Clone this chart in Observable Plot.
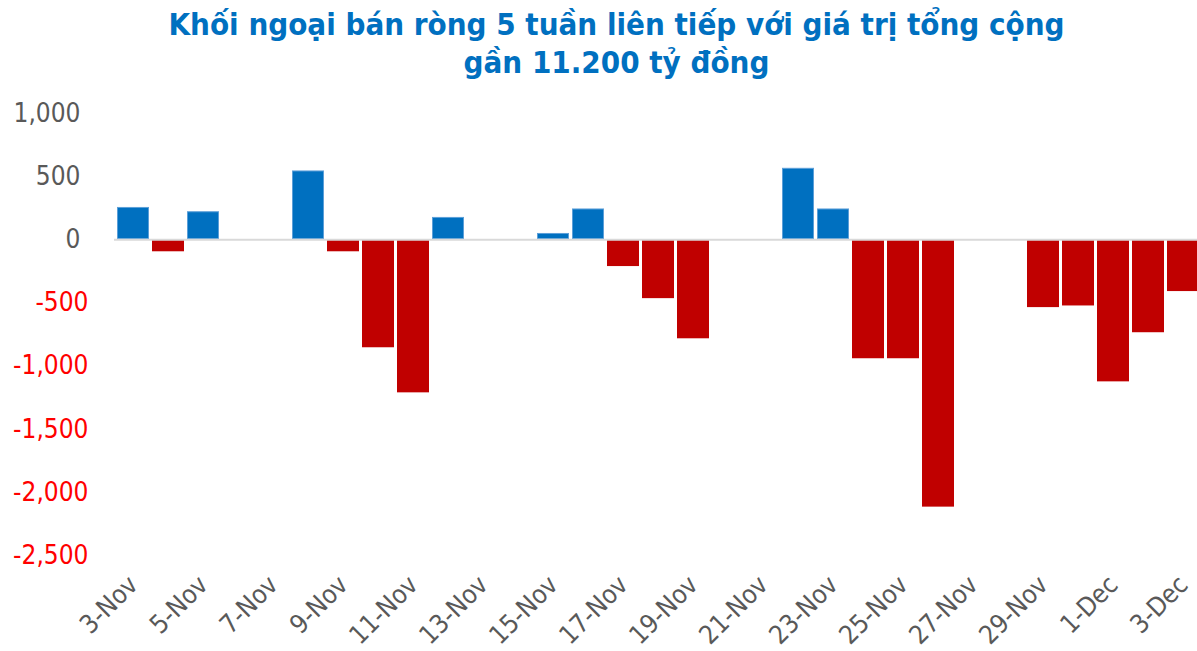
<!DOCTYPE html>
<html>
<head>
<meta charset="utf-8">
<script src="https://cdn.jsdelivr.net/npm/d3@7"></script>
<script src="https://cdn.jsdelivr.net/npm/@observablehq/plot@0.6"></script>
<style>
  html, body { margin: 0; padding: 0; background: #fff; overflow: hidden; }
  #title {
    height: 90px; box-sizing: border-box; padding-top: 5px; padding-left: 36px;
    text-align: center; color: #0070C0;
    font-family: "DejaVu Sans Condensed", "DejaVu Sans", sans-serif;
    font-weight: bold; font-size: 31px; line-height: 38px;
  }
  #chart svg { display: block; }
</style>
</head>
<body>
<div id="title">Khối ngoại bán ròng 5 tuần liên tiếp với giá trị tổng cộng<br>gần 11.200 tỷ đồng</div>
<div id="chart"></div>
<script>
// All calendar days shown on the axis
const allDays = ["3-Nov","4-Nov","5-Nov","6-Nov","7-Nov","8-Nov","9-Nov","10-Nov","11-Nov","12-Nov",
  "13-Nov","14-Nov","15-Nov","16-Nov","17-Nov","18-Nov","19-Nov","20-Nov","21-Nov","22-Nov",
  "23-Nov","24-Nov","25-Nov","26-Nov","27-Nov","28-Nov","29-Nov","30-Nov","1-Dec","2-Dec","3-Dec"];
// Trading days with net foreign buy/sell (bn VND)
const tradingDays = ["3-Nov","4-Nov","5-Nov","8-Nov","9-Nov","10-Nov","11-Nov","12-Nov",
  "15-Nov","16-Nov","17-Nov","18-Nov","19-Nov","22-Nov","23-Nov","24-Nov","25-Nov","26-Nov",
  "29-Nov","30-Nov","1-Dec","2-Dec","3-Dec"];
const netValues = [256, -95, 222, 545, -95, -855, -1212, 177,
  50, 244, -212, -466, -784, 566, 244, -942, -942, -2117,
  -537, -524, -1125, -736, -410];
// Axis ticks
const yTicks = [1000, 500, 0, -500, -1000, -1500, -2000, -2500];
const xTickLabels = ["3-Nov","5-Nov","7-Nov","9-Nov","11-Nov","13-Nov","15-Nov","17-Nov","19-Nov",
  "21-Nov","23-Nov","25-Nov","27-Nov","29-Nov","1-Dec","3-Dec"];

const data = tradingDays.map((d, i) => ({day: d, value: netValues[i]}));
const BLUE = "#0070C0", RED = "#C00000", GRAY = "#595959", NEG = "#FF0000";
const FONT = "'DejaVu Sans Condensed', 'DejaVu Sans', sans-serif";
const fmt = d => (d < 0 ? "-" : "") + d3.format(",")(Math.abs(d));

const chart = Plot.plot({
  width: 1197,
  height: 561,
  marginTop: 23,
  marginBottom: 96,
  marginLeft: 114,
  marginRight: -5,
  style: {fontFamily: FONT, overflow: "visible"},
  x: {type: "band", domain: allDays, padding: 0.075, axis: null},
  y: {domain: [-2500, 1000], axis: null},
  marks: [
    Plot.barY(data, {filter: d => d.value >= 0, x: "day", y: "value", fill: BLUE, stroke: "#5c9fd8", strokeWidth: 1, inset: 0.5}),
    Plot.barY(data, {filter: d => d.value < 0, x: "day", y: "value", fill: RED}),
    Plot.ruleY([0], {stroke: "#d9d9d9", strokeWidth: 2}),
    Plot.text(yTicks.filter(d => d >= 0), {
      y: d => d, frameAnchor: "left", dx: -34, textAnchor: "end",
      text: fmt, fill: GRAY, fontSize: 26
    }),
    Plot.text(yTicks.filter(d => d < 0), {
      y: d => d, frameAnchor: "left", dx: -26, textAnchor: "end",
      text: fmt, fill: NEG, fontSize: 26
    }),
    Plot.axisX(xTickLabels, {
      tickSize: 0, tickPadding: 25, tickRotate: -45,
      fontSize: 26, fill: GRAY, label: null
    })
  ]
});
document.getElementById("chart").appendChild(chart);
</script>
</body>
</html>
